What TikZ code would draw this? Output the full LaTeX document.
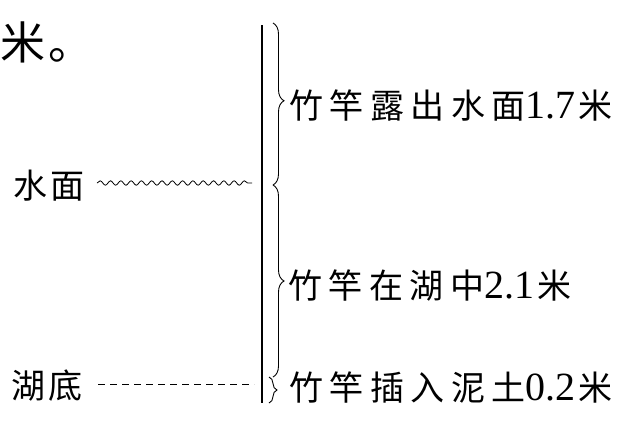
\documentclass[tikz,border=0pt]{standalone}
\usepackage{fontspec}
\setmainfont{Liberation Serif}
\newfontfamily\cjk{Noto Sans CJK SC}
\usetikzlibrary{decorations.pathmorphing,decorations.pathreplacing}
\newcommand\gp{\hspace{6.5pt}}
\newcommand\dg[1]{{\rmfamily\fontsize{40}{40}\selectfont #1}}
\tikzset{
  lbl/.style={anchor=base west, inner sep=0pt, font=\fontsize{34}{34}\selectfont\cjk},
  bigl/.style={anchor=base west, inner sep=0pt, font=\fontsize{45}{45}\selectfont\cjk},
  brc/.style={decorate, decoration={brace, amplitude=#1}, line width=0.9pt},
  brc/.default=10pt,
  pole/.style={line width=1.2pt},
  wave/.style={decorate, decoration={snake, segment length=10.3pt, amplitude=2.2pt}, line width=0.8pt},
  dash line/.style={line width=0.8pt, dash pattern=on 6.5pt off 5.5pt}
}
\begin{document}
\begin{tikzpicture}[x=1pt, y=-1pt]
\useasboundingbox (0,0) rectangle (634,432);
% texts
\node[bigl] (mi) at (0,59) {米\hspace{3pt}。};
\node[lbl] (sm) at (13,198) {水\hspace{3pt}面};
\node[lbl] (hd) at (11,398) {湖\hspace{3pt}底};
\node[lbl] (t1) at (289,118) {竹\gp 竿\gp 露\gp 出\gp 水\gp 面\dg{1.7}\hspace{3pt}米};
\node[lbl] (t2) at (288,298) {竹\gp 竿\gp 在\gp 湖\gp 中\dg{2.1}\hspace{3pt}米};
\node[lbl] (t3) at (289,400) {竹\gp 竿\gp 插\gp 入\gp 泥\gp 土\dg{0.2}\hspace{3pt}米};
% pole
\coordinate (ptop) at (262,25);
\coordinate (pbot) at (262,403);
\draw[pole] (ptop) -- (pbot);
% water surface and lake bottom
\coordinate (w1) at (97,183);
\coordinate (w2) at (252,183);
\draw[wave] (w1) -- (w2);
\coordinate (d1) at (98,384);
\coordinate (d2) at (254,384);
\draw[dash line] (d1) -- (d2);
% braces
\coordinate (b0) at (273,23);
\coordinate (b1) at (273,185);
\coordinate (b2) at (273,377);
\coordinate (b3) at (269,377);
\coordinate (b4) at (269,403);
\draw[brc=11pt, decoration={aspect=0.48}] (b0) -- (b1);
\draw[brc=11pt, decoration={aspect=0.5}] (b1) -- (b2);
\draw[brc=8pt] (b3) -- (b4);
\end{tikzpicture}
\end{document}
